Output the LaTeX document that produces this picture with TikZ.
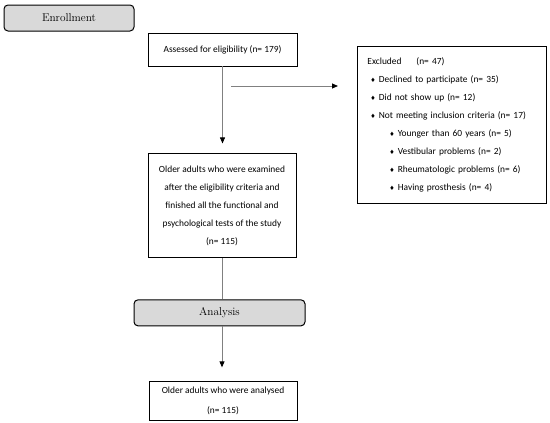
\documentclass[tikz,border=0pt]{standalone}
\usepackage{fontspec}
\usepackage{tikz}
\usetikzlibrary{positioning,arrows.meta}
\newfontfamily\boxfont{Carlito}
\newfontfamily\symbfont{DejaVu Sans}
\newcommand{\itemmark}{{\symbfont\fontsize{6}{6}\selectfont ♦}\hspace{3pt}}
\tikzstyle{block} = [draw, rectangle, line width=0.9pt, inner sep=0pt,
font=\boxfont\fontsize{9.4}{18}\selectfont, align=center]
\tikzstyle{stage} = [draw, rectangle, rounded corners=4pt, fill=gray!30,
line width=1pt, minimum height=26pt, font=\fontsize{11.3}{13}\selectfont]
\tikzstyle{line} = [draw, gray, line width=0.8pt]
\tikzstyle{flowarrow} = [line, -{Triangle[width=5pt,length=6pt,color=black]}]

\begin{document}
\begin{tikzpicture}[x=1pt, y=-1pt]
	\useasboundingbox (0,0) rectangle (550,423);
	% stages and the main column of boxes
	\node [stage, minimum width=130pt] (enroll) at (69,18) {Enrollment};
	\node [block, minimum width=149pt, minimum height=33pt] (assess) at (222.5,49.5)
	{Assessed for eligibility (n= 179)};
	\node [block, below=87pt of assess, xshift=-0.5pt, minimum width=148pt,
	minimum height=104pt] (older)
	{Older adults who were examined\\after the eligibility criteria and\\
	finished all the functional and\\psychological tests of the study\\(n= 115)};
	\node [stage, below=41pt of older, xshift=-2.5pt, minimum width=171pt] (analysis) {Analysis};
	\node [block, below=55pt of analysis, xshift=3.5pt, minimum width=148pt,
	minimum height=39pt, font=\boxfont\fontsize{9.4}{20}\selectfont] (analysed)
	{Older adults who were analysed\\(n= 115)};
	% the excluded list on the right
	\node [block, anchor=north west, align=left, inner xsep=10pt, text width=169pt,
	minimum height=157pt] (excluded) at (357,46)
	{\makebox[49pt][l]{Excluded}(n= 47)\\
	\hspace*{3pt}\itemmark Declined to participate (n= 35)\\
	\hspace*{3pt}\itemmark Did not show up (n= 12)\\
	\hspace*{3pt}\itemmark Not meeting inclusion criteria (n= 17)\\
	\hspace*{22pt}\itemmark Younger than 60 years (n= 5)\\
	\hspace*{22pt}\itemmark Vestibular problems (n= 2)\\
	\hspace*{22pt}\itemmark Rheumatologic problems (n= 6)\\
	\hspace*{22pt}\itemmark Having prosthesis (n= 4)};
	\coordinate (split) at (222,86);

	% connectors
	\draw [flowarrow, shorten >=10pt] (assess.south) -- (assess.south |- older.north);
	\draw [flowarrow, shorten <=9pt, shorten >=19pt] (split) -- (split -| excluded.west);
	\draw [line] (older.south) -- (older.south |- analysis.north);
	\draw [flowarrow, shorten >=14pt] (older.south |- analysis.south)
	-- (older.south |- analysed.north);
\end{tikzpicture}
\end{document}
